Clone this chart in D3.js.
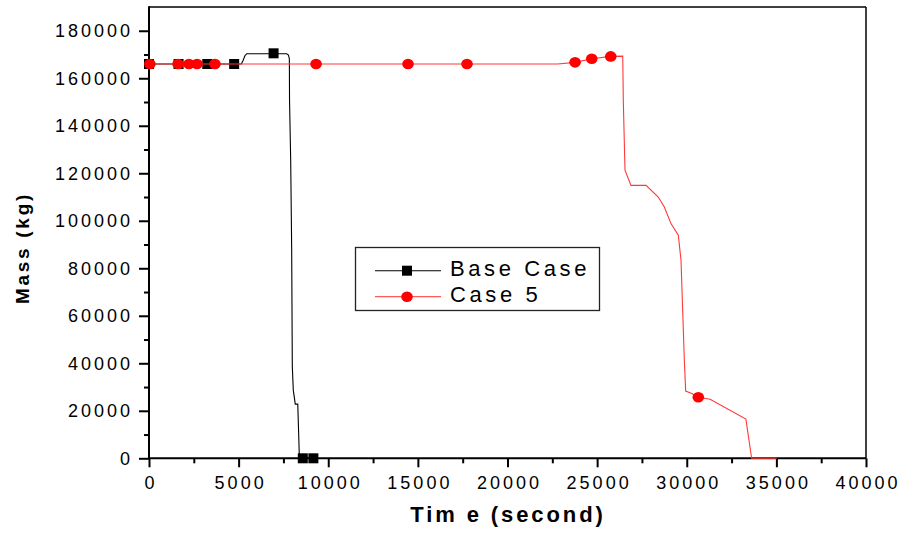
<!DOCTYPE html>
<html>
<head>
<meta charset="utf-8">
<script src="https://cdn.jsdelivr.net/npm/d3@7"></script>
<style>
body { margin: 0; background: #fff; }
svg { display: block; font-family: "Liberation Sans", Arial, sans-serif; }
</style>
</head>
<body>
<svg id="chart" width="902" height="535"></svg>
<script>
// base case line (time s, mass kg)
var baseT = [0, 5150, 5250, 5350, 5450, 7680, 7780, 7830, 7840, 7905, 7960, 7995, 8050, 8160, 8300, 8390, 9450]
var baseM = [166000, 166000, 167500, 169500, 170300, 170300, 169800, 168200, 150700, 125500, 87600, 38500, 28700, 22800, 22800, 0, 0]
var baseMarkT = [0, 1650, 3250, 4750, 6950, 8580, 9170]
var baseMarkM = [166000, 166000, 166000, 166000, 170500, 0, 0]

// case 5 line
var caseT = [0, 22800, 23770, 24700, 25760, 26430, 26460, 26555, 26890, 27730, 28410, 28750, 29120, 29530, 29680, 29865, 29940, 30280, 30645, 31300, 33300, 33620, 35020]
var caseM = [166000, 166000, 166700, 168200, 169200, 169300, 150700, 121300, 114900, 114900, 110000, 105800, 98800, 93900, 83400, 41300, 28300, 27300, 25700, 24900, 16500, 0, 0]
var caseMarkT = [50, 1620, 2230, 2680, 3680, 9320, 14450, 17740, 23770, 24700, 25760, 30645]
var caseMarkM = [166000, 166000, 166000, 166000, 166000, 166000, 166000, 166000, 166700, 168200, 169200, 25700]

var xTicks = [0, 5000, 10000, 15000, 20000, 25000, 30000, 35000, 40000]
var yTicks = [0, 20000, 40000, 60000, 80000, 100000, 120000, 140000, 160000, 180000]
var legendNames = ['Base Case', 'Case 5']

var svg = d3.select('#chart')
var pLeft = 149, pRight = 866, pTop = 7, pBottom = 458.3

var x = d3.scaleLinear().domain([0, 40000]).range([pLeft, pRight])
var y = d3.scaleLinear().domain([0, 190000]).range([pBottom, pTop])

function zip(a, b) {
	return a.map(function(v, i) { return [v, b[i]] })
}

var line = d3.line().x(function(d) { return x(d[0]) }).y(function(d) { return y(d[1]) })

// frame
svg.append('line').attr('x1', pLeft).attr('x2', pRight).attr('y1', pTop).attr('y2', pTop)
	.attr('stroke', '#000').attr('stroke-width', 1.5)
svg.append('line').attr('x1', pRight).attr('x2', pRight).attr('y1', pTop).attr('y2', pBottom)
	.attr('stroke', '#000').attr('stroke-width', 1.5)

// axes
var xAxis = d3.axisBottom(x).tickValues(xTicks).tickSize(9).tickPadding(9).tickFormat(d3.format('d'))
var xMinor = d3.axisBottom(x).tickValues(d3.range(2500, 40000, 5000)).tickSize(5).tickFormat('')
var yAxis = d3.axisLeft(y).tickValues(yTicks).tickSize(10).tickPadding(9).tickFormat(d3.format('d'))
var yMinor = d3.axisLeft(y).tickValues(d3.range(10000, 190000, 20000)).tickSize(5).tickFormat('')

function styleAxis(g) {
	g.select('.domain').remove()
	g.selectAll('.tick line').attr('stroke', '#000').attr('stroke-width', 2)
	g.selectAll('.tick text').attr('fill', '#000').style('font-size', '18px').style('letter-spacing', '3px')
}

svg.append('g').attr('transform', 'translate(0,' + pBottom + ')').call(xMinor).call(styleAxis)
var gx = svg.append('g').attr('transform', 'translate(0,' + pBottom + ')').call(xAxis).call(styleAxis)
gx.selectAll('.tick text').attr('dx', '1.5px')
svg.append('g').attr('transform', 'translate(' + pLeft + ',0)').call(yMinor).call(styleAxis)
var gy = svg.append('g').attr('transform', 'translate(' + pLeft + ',0)').call(yAxis).call(styleAxis)
gy.selectAll('.tick text').attr('dx', '3px')

svg.append('line').attr('x1', pLeft).attr('x2', pRight).attr('y1', pBottom).attr('y2', pBottom)
	.attr('stroke', '#000').attr('stroke-width', 2)
svg.append('line').attr('x1', pLeft).attr('x2', pLeft).attr('y1', pTop - 0.7).attr('y2', pBottom)
	.attr('stroke', '#000').attr('stroke-width', 2)

// black series
svg.append('path').attr('d', line(zip(baseT, baseM)))
	.attr('fill', 'none').attr('stroke', '#000').attr('stroke-width', 1.1)
svg.selectAll('.sq').data(zip(baseMarkT, baseMarkM)).enter().append('rect')
	.attr('class', 'sq')
	.attr('x', function(d) { return x(d[0]) - 5 })
	.attr('y', function(d) { return y(d[1]) - 5 })
	.attr('width', 10).attr('height', 10).attr('fill', '#000')

// red series
svg.append('path').attr('d', line(zip(caseT, caseM)))
	.attr('fill', 'none').attr('stroke', '#ff3838').attr('stroke-width', 1.1)
svg.selectAll('.ci').data(zip(caseMarkT, caseMarkM)).enter().append('ellipse')
	.attr('class', 'ci')
	.attr('cx', function(d) { return x(d[0]) })
	.attr('cy', function(d) { return y(d[1]) })
	.attr('rx', 5.8).attr('ry', 5.3).attr('fill', '#ff0000')

// axis titles
svg.append('text').attr('x', 508).attr('y', 522)
	.attr('text-anchor', 'middle').attr('font-weight', 'bold')
	.style('font-size', '22px').style('letter-spacing', '2.9px')
	.text('Tim e (second)')
svg.append('text').attr('transform', 'translate(29,248) rotate(-90)')
	.attr('text-anchor', 'middle').attr('font-weight', 'bold')
	.style('font-size', '19px').style('letter-spacing', '2.7px')
	.text('Mass (kg)')

// legend
var lg = svg.append('g')
lg.append('rect').attr('x', 355.5).attr('y', 247.5).attr('width', 244).attr('height', 63)
	.attr('fill', '#fff').attr('stroke', '#222').attr('stroke-width', 1.3)
var rows = [270.7, 296.7]
lg.append('line').attr('x1', 375).attr('x2', 441).attr('y1', rows[0]).attr('y2', rows[0])
	.attr('stroke', '#000').attr('stroke-width', 1.1)
lg.append('rect').attr('x', 402).attr('y', rows[0] - 5).attr('width', 10).attr('height', 10).attr('fill', '#000')
lg.append('line').attr('x1', 375).attr('x2', 441).attr('y1', rows[1]).attr('y2', rows[1])
	.attr('stroke', '#ff5a5a').attr('stroke-width', 1.3)
lg.append('ellipse').attr('cx', 407).attr('cy', rows[1]).attr('rx', 5.8).attr('ry', 5.3).attr('fill', '#ff0000')
lg.selectAll('.lt').data(legendNames).enter().append('text')
	.attr('class', 'lt')
	.attr('x', 450)
	.attr('y', function(d, i) { return rows[i] + 5 })
	.style('font-size', '22px').style('letter-spacing', '3.6px')
	.text(function(d) { return d })
</script>
</body>
</html>
